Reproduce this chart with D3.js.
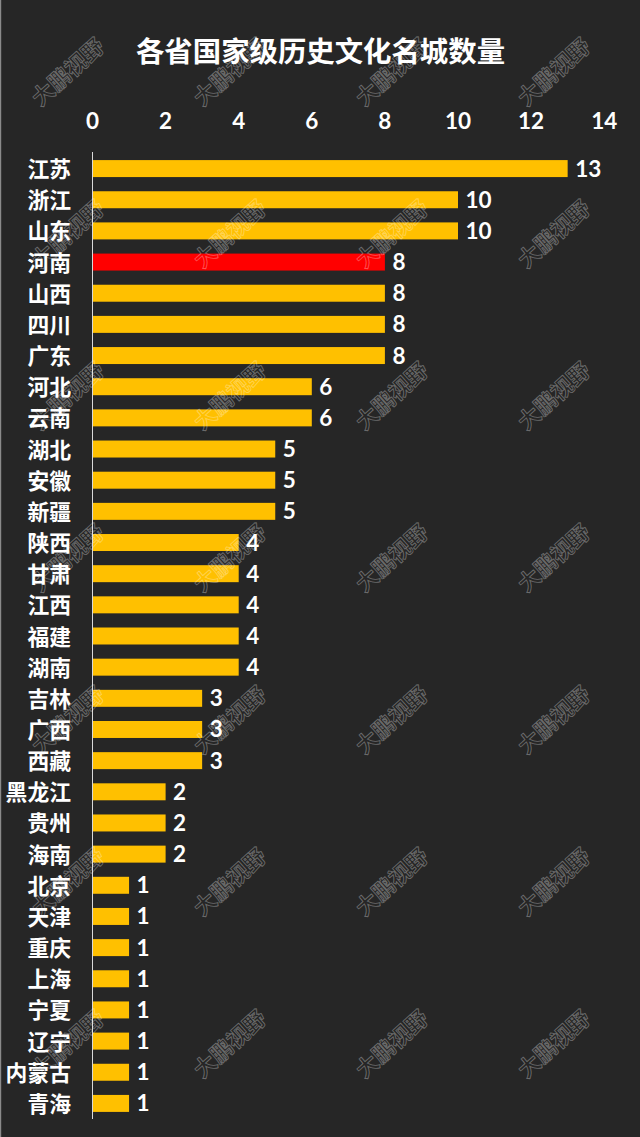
<!DOCTYPE html>
<html><head><meta charset="utf-8">
<script src="https://cdn.jsdelivr.net/npm/d3@7/dist/d3.min.js"></script>
<style>html,body{margin:0;padding:0;background:#262626}svg{display:block}</style>
</head><body><div id="c"></div>
<script>
const provinces=["江苏","浙江","山东","河南","山西","四川","广东","河北","云南","湖北","安徽","新疆","陕西","甘肃","江西","福建","湖南","吉林","广西","西藏","黑龙江","贵州","海南","北京","天津","重庆","上海","宁夏","辽宁","内蒙古","青海"];
const counts=[13,10,10,8,8,8,8,6,6,5,5,5,4,4,4,4,4,3,3,3,2,2,2,1,1,1,1,1,1,1,1];
const highlighted=["河南"];
const xTicks=[0,2,4,6,8,10,12,14];
const titleText="各省国家级历史文化名城数量";
const watermarkText="大鹏视野";
const W=640,H=1137;
const cjk='"Noto Sans CJK SC","Noto Sans",sans-serif';
const num='Lato,"Open Sans",sans-serif';
const x=d3.scaleLinear().domain([0,14]).range([92.5,604.2]);
const y=d3.scaleBand().domain(provinces).range([153,1119]).paddingInner(0.455).paddingOuter(0.2275);
const svg=d3.select("#c").append("svg").attr("width",W).attr("height",H);
svg.append("rect").attr("width",W).attr("height",H).attr("fill","#262626");
svg.append("rect").attr("width",1.2).attr("height",H).attr("fill","#8a8a8a");
svg.append("text").attr("x",320.5).attr("y",61.5).attr("text-anchor","middle").attr("fill","#fff")
  .attr("font-family",cjk).attr("font-weight",700).attr("font-size",28.4).text(titleText);
svg.append("g").selectAll("text").data(xTicks).join("text")
  .attr("x",d=>x(d)).attr("y",129).attr("text-anchor","middle").attr("fill","#fff")
  .attr("font-family",num).attr("font-weight",700).attr("font-size",22.5).text(d=>d);
svg.append("g").selectAll("rect").data(provinces).join("rect")
  .attr("x",x(0)).attr("y",d=>y(d)).attr("width",(d,i)=>x(counts[i])-x(0)).attr("height",y.bandwidth())
  .attr("fill",d=>highlighted.includes(d)?"#ff0000":"#ffc000");
svg.append("line").attr("x1",x(0)).attr("x2",x(0)).attr("y1",152).attr("y2",1119).attr("stroke","#d9d9d9").attr("stroke-width",1);
svg.append("g").selectAll("text").data(provinces).join("text")
  .attr("x",71).attr("y",d=>y(d)+y.bandwidth()/2+8.5).attr("text-anchor","end").attr("fill","#fff")
  .attr("font-family",cjk).attr("font-weight",700).attr("font-size",21.8).text(d=>d);
svg.append("g").selectAll("text").data(provinces).join("text")
  .attr("x",(d,i)=>x(counts[i])+7.5).attr("y",d=>y(d)+y.bandwidth()/2+8).attr("fill","#fff")
  .attr("font-family",num).attr("font-weight",700).attr("font-size",22.5).text((d,i)=>counts[i]);
const wx=[68,230,392,554],wy=[72,234,396,558,720,882,1044];
const wm=svg.append("g");
wy.forEach(b=>wx.forEach(a=>{
  wm.append("text").attr("transform",`translate(${a},${b}) rotate(-42)`).attr("text-anchor","middle").attr("dy","0.36em")
    .attr("font-family",cjk).attr("font-weight",700).attr("font-size",22).attr("fill","none")
    .attr("stroke","#ffffff").attr("stroke-opacity",0.33).attr("stroke-width",0.9).text(watermarkText);
}));
</script></body></html>
